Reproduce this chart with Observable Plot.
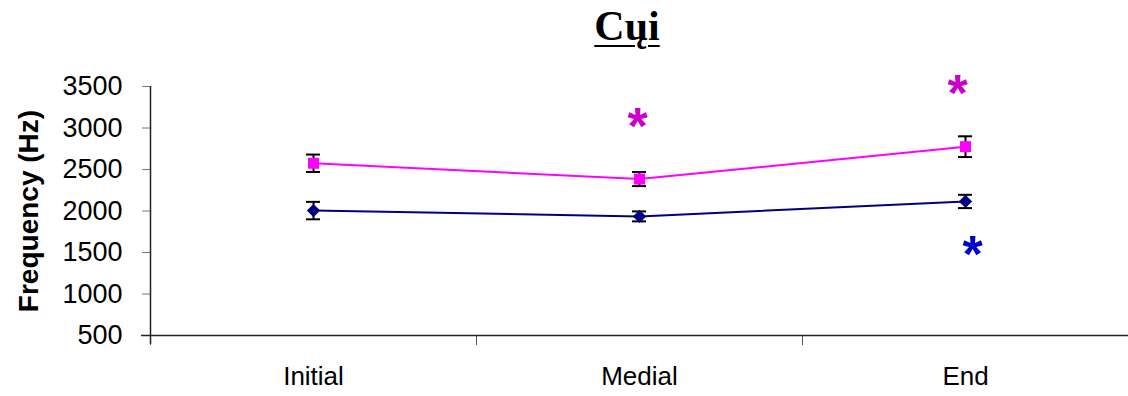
<!DOCTYPE html>
<html>
<head>
<meta charset="utf-8">
<script src="https://cdn.jsdelivr.net/npm/d3@7"></script>
<script src="https://cdn.jsdelivr.net/npm/@observablehq/plot@0.6"></script>
<style>
  html, body { margin: 0; padding: 0; background: #fff; }
  #wrap { position: relative; width: 1128px; height: 396px; overflow: hidden; }
  #title { position: absolute; top: 0px; left: 627px; transform: translateX(-50%);
    font-family: "Liberation Serif", serif; font-weight: bold; font-size: 42px;
    text-decoration: underline; text-decoration-thickness: 2px; text-underline-offset: 5px; line-height: 52px; }
  #chart { position: absolute; top: 62px; left: 0; }
</style>
</head>
<body>
<div id="wrap">
  <div id="title">Cųi</div>
  <div id="chart"></div>
</div>
<script>
const categories = ["Initial", "Medial", "End"];
const pinkMeans = [2575, 2385, 2775];
const pinkErr = [105, 85, 125];
const navyMeans = [2005, 1935, 2115];
const navyErr = [105, 60, 80];
const yTicks = [500, 1000, 1500, 2000, 2500, 3000, 3500];
const yLabel = "Frequency (Hz)";
// significance stars: category index, value, series
const starCats = [1, 2, 2];
const starValues = [3120, 3510, 1580];
const starSeries = ["pink", "pink", "navy"];

const pink = categories.map((c, i) => ({x: i + 0.5, y: pinkMeans[i], e: pinkErr[i]}));
const navy = categories.map((c, i) => ({x: i + 0.5, y: navyMeans[i], e: navyErr[i]}));
const all = pink.concat(navy);
const stars = starCats.map((c, i) => ({x: c + 0.5, y: starValues[i], s: starSeries[i]}));
const labels = categories.map((c, i) => ({x: i + 0.5, label: c}));
const starColor = d => d.s === "pink" ? "#cc00cc" : "#0000cc";
const starOffsets = [-2, -8, 7];

const chart = Plot.plot({
  width: 1128,
  height: 334,
  marginLeft: 150,
  marginRight: 0,
  marginTop: 24,
  marginBottom: 61,
  style: {fontFamily: "'Liberation Sans', Arial, sans-serif", background: "#fff", overflow: "visible"},
  x: {domain: [0, 3], axis: null},
  y: {domain: [500, 3500], axis: null},
  marks: [
    Plot.axisY({ticks: yTicks, tickSize: 8, tickPadding: 20, fontSize: 27, stroke: "#777", color: "#000", tickFormat: d => String(d), label: null}),
    Plot.axisX({ticks: [0, 1, 2], tickSize: 10, tickFormat: () => "", stroke: "#555", label: null}),
    Plot.ruleY([500], {stroke: "#222", strokeWidth: 1.5, insetLeft: -9}),
    Plot.ruleX([0], {y1: 3500, y2: 500, stroke: "#222", strokeWidth: 1.5, insetBottom: -9}),
    Plot.text(labels, {x: "x", text: "label", frameAnchor: "bottom", dy: 49, fontSize: 26, fill: "#000"}),
    Plot.text([yLabel], {frameAnchor: "left", textAnchor: "middle", lineAnchor: "middle", rotate: -90, dx: -121, fontSize: 28, fontWeight: "bold", fill: "#000"}),
    Plot.line(pink, {x: "x", y: "y", stroke: "#ff00ff", strokeWidth: 2}),
    Plot.line(navy, {x: "x", y: "y", stroke: "#000080", strokeWidth: 2}),
    Plot.ruleX(all, {x: "x", y1: d => d.y - d.e, y2: d => d.y + d.e, stroke: "#000", strokeWidth: 2}),
    Plot.ruleY(all, {y: d => d.y - d.e, x1: "x", x2: "x", insetLeft: -7, insetRight: -7, stroke: "#000", strokeWidth: 2}),
    Plot.ruleY(all, {y: d => d.y + d.e, x1: "x", x2: "x", insetLeft: -7, insetRight: -7, stroke: "#000", strokeWidth: 2}),
    Plot.dot(pink, {x: "x", y: "y", symbol: "square", r: 6.2, fill: "#ff00ff", stroke: "none"}),
    Plot.dot(navy, {x: "x", y: "y", symbol: "diamond2", r: 6, fill: "#000080", stroke: "none"}),
    ...stars.map((s, i) => Plot.text([s], {x: "x", y: "y", text: () => "*", dx: starOffsets[i], dy: 9,
      fontSize: 52, fontWeight: "bold", fill: starColor}))
  ]
});
document.getElementById("chart").appendChild(chart);
</script>
</body>
</html>
